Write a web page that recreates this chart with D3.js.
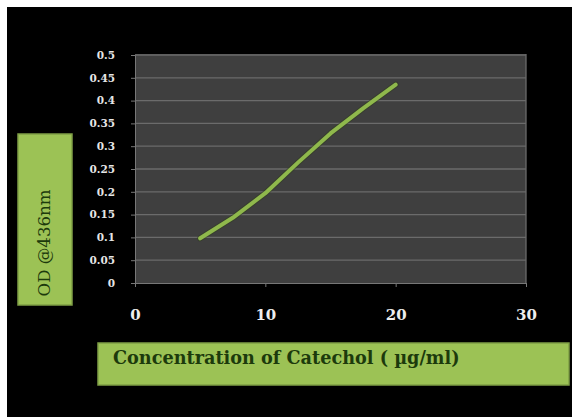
<!DOCTYPE html>
<html><head><meta charset="utf-8">
<script src="https://cdn.jsdelivr.net/npm/d3@7"></script>
<style>html,body{margin:0;padding:0;background:#fff;}svg{display:block;}</style>
</head><body>
<script>
const concentration = [5, 7.5, 10, 12.5, 15, 17.5, 20];
const odValues = [0.098, 0.143, 0.197, 0.264, 0.328, 0.383, 0.435];
const xTicks = [0, 10, 20, 30];
const yTicks = [0, 0.05, 0.1, 0.15, 0.2, 0.25, 0.3, 0.35, 0.4, 0.45, 0.5];
const xTitle = "Concentration of Catechol ( µg/ml)";
const yTitle = "OD @436nm";

const W = 572, H = 417;
const svg = d3.select("body").append("svg").attr("width", W).attr("height", H);
svg.append("rect").attr("x", 7).attr("y", 7).attr("width", W - 7).attr("height", H - 7).attr("fill", "#000");

const x = d3.scaleLinear().domain([0, 30]).range([135, 526]);
const y = d3.scaleLinear().domain([0, 0.5]).range([283, 55]);

// plot area
svg.append("rect").attr("x", x(0)).attr("y", y(0.5) - 1).attr("width", x(30) - x(0)).attr("height", y(0) - y(0.5) + 2).attr("fill", "#3f3f3f");

// gridlines
svg.append("g").selectAll("line").data(yTicks.filter(d => d > 0)).join("line")
  .attr("x1", x(0)).attr("x2", x(30)).attr("y1", d => y(d)).attr("y2", d => y(d))
  .attr("stroke", "#6b6b6b").attr("stroke-width", 1.3);

// axes
const serif = "'DejaVu Serif', 'Liberation Serif', serif";
const yAxis = svg.append("g").attr("transform", `translate(${x(0)},0)`)
  .call(d3.axisLeft(y).tickValues(yTicks).tickSize(4).tickPadding(16).tickFormat(d => d3.format("")(+d.toFixed(2))));
yAxis.select(".domain").attr("stroke", "#777");
yAxis.selectAll(".tick line").attr("stroke", "#777");
yAxis.selectAll("text").attr("fill", "#e6e6e6").attr("font-family", serif).attr("font-weight", "bold").attr("font-size", 10.5);

const xAxis = svg.append("g").attr("transform", `translate(0,${y(0)})`)
  .call(d3.axisBottom(x).tickValues(xTicks).tickSize(4).tickPadding(22));
xAxis.select(".domain").attr("stroke", "#777");
xAxis.selectAll(".tick line").attr("stroke", "#777");
xAxis.selectAll("text").attr("fill", "#eeeeee").attr("font-family", serif).attr("font-weight", "bold").attr("font-size", 15);

// right border of plot
svg.append("line").attr("x1", x(30)).attr("x2", x(30)).attr("y1", y(0.5) - 1).attr("y2", y(0)).attr("stroke", "#6b6b6b").attr("stroke-width", 1.3);

// line
const pts = concentration.map((c, i) => [c, odValues[i]]);
const lineGen = d3.line().x(d => x(d[0])).y(d => y(d[1])).curve(d3.curveLinear);
svg.append("path").datum(pts).attr("d", lineGen)
  .attr("fill", "none").attr("stroke", "#2f3d1c").attr("stroke-width", 6).attr("stroke-linecap", "round").attr("stroke-linejoin", "round").attr("opacity", 0.5);
svg.append("path").datum(pts).attr("d", lineGen)
  .attr("fill", "none").attr("stroke", "#8fb84c").attr("stroke-width", 4).attr("stroke-linecap", "round").attr("stroke-linejoin", "round");

// y title box
svg.append("rect").attr("x", 18).attr("y", 134).attr("width", 54).attr("height", 171)
  .attr("fill", "#9cc255").attr("stroke", "#7f9f45").attr("stroke-width", 1.5);
const yt = svg.append("text").attr("transform", "translate(50,243) rotate(-90)")
  .attr("text-anchor", "middle").attr("fill", "#1c3a0c").attr("font-family", serif).attr("font-size", 13).text(yTitle);
const ytl = yt.node().getComputedTextLength();
yt.attr("font-size", 13 * 107 / ytl);

// x title box
svg.append("rect").attr("x", 98).attr("y", 343).attr("width", 471).attr("height", 42)
  .attr("fill", "#9cc255").attr("stroke", "#7f9f45").attr("stroke-width", 1.5);
const xt = svg.append("text").attr("x", 113).attr("y", 364)
  .attr("fill", "#1c3a0c").attr("font-family", serif).attr("font-weight", "bold").attr("font-size", 14).text(xTitle);
const xtl = xt.node().getComputedTextLength();
xt.attr("font-size", 14 * 347 / xtl);
</script>
</body></html>
